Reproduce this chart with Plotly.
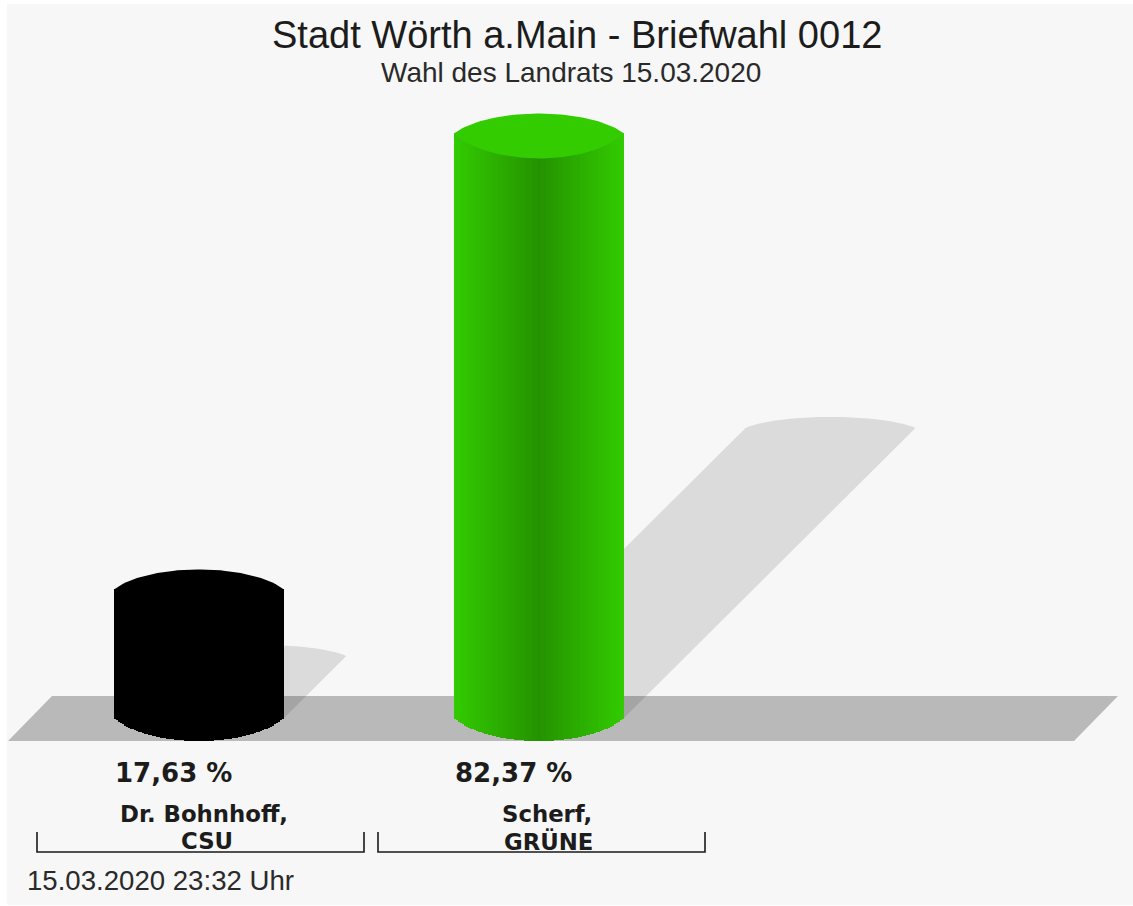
import numpy as np
import plotly.graph_objects as go

TITLE = "Stadt Wörth a.Main - Briefwahl 0012"
SUBTITLE = "Wahl des Landrats 15.03.2020"
DATE = "15.03.2020 23:32 Uhr"
candidates = ["Dr. Bohnhoff,<br>CSU", "Scherf,<br>GRÜNE"]
values = [17.63, 82.37]
value_labels = ["17,63 %", "82,37 %"]
bar_centers = [199, 539]
cap_colors = ["#000000", "#33cc00"]
edge_colors = [(0, 0, 0), (51, 204, 0)]
dark_factor = 0.72

W, H = 1133, 906
PX_PER = 7.043
ZERO_PX = 713.6
FOOT = (ZERO_PX - 718) / PX_PER
RX = 85
STEP = 2
K = 0.9
LENS = np.sqrt(1 - K ** 2)


def px2v(p):
    return (ZERO_PX - p) / PX_PER


def arc(u, rise_px):
    """Shallow arc over a unit half-width, 0 at the rim and rise_px at the middle (axis units)."""
    return rise_px * (np.sqrt(1 - (K * u) ** 2) - LENS) / (1 - LENS) / PX_PER


fig = go.Figure()
shapes = []
shapes.append(dict(type="rect", xref="x", yref="y", x0=7, x1=W, y0=px2v(4), y1=px2v(905),
                   fillcolor="#f7f7f7", line_width=0, layer="below"))
shapes.append(dict(type="path", xref="x", yref="y", layer="below", line_width=0, fillcolor="#b9b9b9",
                   path=f"M 8 {px2v(741)} L 1074 {px2v(741)} L 1118 {px2v(696)} L 52 {px2v(696)} Z"))

for c, v, ec, cc in zip(bar_centers, values, edge_colors, cap_colors):
    # shadow
    off_v = v * 0.5
    off_x = off_v * PX_PER * 1.005
    u = np.linspace(1, -1, 41)
    ax = c + off_x + RX * u
    ay = FOOT + off_v + arc(u, 11)
    d = f"M {c - RX} {FOOT} L {c + RX} {FOOT} " + " ".join(f"L {a:.2f} {b:.3f}" for a, b in zip(ax, ay)) + " Z"
    shapes.append(dict(type="path", xref="x", yref="y", layer="below", line_width=0,
                       fillcolor="rgba(0,0,0,0.11)", path=d))
    # body built from narrow bars
    xs = np.arange(c - RX + STEP / 2, c + RX, STEP)
    u = (xs - c) / RX
    base = FOOT - arc(u, 23)
    f = 1 - (1 - dark_factor) * (1 - np.abs(u))
    cols = [f"rgb({int(ec[0]*k)},{int(ec[1]*k)},{int(ec[2]*k)})" for k in f]
    fig.add_trace(go.Bar(x=xs, y=v - base, base=base, width=STEP, marker=dict(color=cols, line_width=0),
                         hoverinfo="skip", showlegend=False))
    # cap
    u1 = np.linspace(-1, 1, 60)
    cx = np.concatenate([c + RX * u1, c + RX * u1[::-1]])
    cy = np.concatenate([v + arc(u1, 20), v - arc(u1[::-1], 25)])
    fig.add_trace(go.Scatter(x=cx, y=cy, mode="lines", fill="toself",
                             fillcolor=cc, line=dict(width=0, color=cc), hoverinfo="skip", showlegend=False))

brackets = [(37, 364), (378, 705)]
for a, b in brackets:
    shapes.append(dict(type="path", xref="x", yref="y", line=dict(color="#1a1a1a", width=1.6),
                       path=f"M {a} {px2v(832)} L {a} {px2v(852)} L {b} {px2v(852)} L {b} {px2v(832)}"))

FONT = "Liberation Sans, Arial, sans-serif"
WIDE = "DejaVu Sans, sans-serif"
INK = "#1c1c1c"
anns = [
    dict(x=576.5, y=px2v(35), text=TITLE, font=dict(size=38, color=INK, family=FONT)),
    dict(x=571, y=px2v(72), text=SUBTITLE, font=dict(size=28, color="#2a2a2a", family=FONT)),
    dict(x=25, y=px2v(880), text=DATE, xanchor="left", font=dict(size=27.6, color="#2a2a2a", family=FONT)),
]
for xc, lab in zip([173.5, 513], value_labels):
    anns.append(dict(x=xc, y=px2v(773), text=f"<b>{lab}</b>", font=dict(size=26, color=INK, family=WIDE)))
for xc, name in zip([203.5, 547], candidates):
    l1, l2 = name.split("<br>")
    anns.append(dict(x=xc, y=px2v(814), text=f"<b>{l1}</b>", font=dict(size=22.8, color=INK, family=WIDE)))
    anns.append(dict(x=xc + (3 if xc < 300 else 1), y=px2v(841), text=f"<b>{l2}</b>", font=dict(size=22.8, color=INK, family=WIDE)))
for a in anns:
    a.update(xref="x", yref="y", showarrow=False)
    a.setdefault("xanchor", "center")
    a.setdefault("yanchor", "middle")

fig.update_layout(
    width=W, height=H, margin=dict(l=0, r=0, t=0, b=0), paper_bgcolor="#ffffff", plot_bgcolor="rgba(0,0,0,0)",
    barmode="overlay", bargap=0, shapes=shapes, annotations=anns,
    xaxis=dict(range=[0, W], visible=False, fixedrange=True),
    yaxis=dict(range=[px2v(H), px2v(0)], visible=False, fixedrange=True),
)
fig.write_html("out.html", config={"displayModeBar": False},
               post_script="document.body.style.margin='0';")
